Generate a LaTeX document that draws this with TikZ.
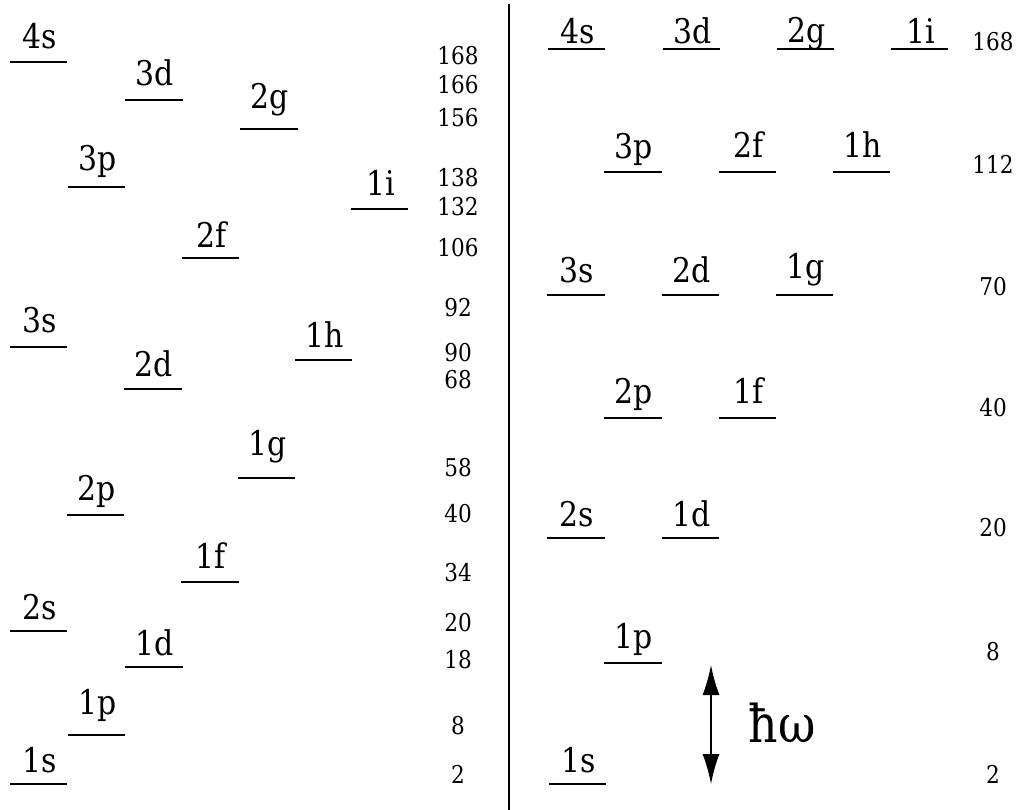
\documentclass[tikz,border=0pt]{standalone}
\usepackage{fontspec}
\setmainfont{DejaVu Serif}[FakeStretch=0.88]
\usetikzlibrary{arrows.meta}

\tikzset{
  levelbar/.style={line width=2pt},
  orbital/.style={anchor=base, inner sep=0pt, font=\fontsize{34}{40}\selectfont},
  magic/.style={anchor=center, inner sep=0pt, font=\fontsize{24.5}{30}\selectfont},
  divider/.style={line width=2pt},
  gap/.style={line width=1.5pt, {Latex[length=30pt,width=17pt]}-{Latex[length=30pt,width=17pt]}},
  quantum/.style={anchor=base, inner sep=0pt, font=\fontsize{52}{60}\selectfont}
}

\begin{document}
\begin{tikzpicture}[x=1pt, y=-1pt]
\useasboundingbox (0,0) rectangle (1027,809);

% left panel: realistic shell ordering (name/label/centre x/bar y/text baseline)
\foreach \n/\t/\cx/\ly/\by in {
  L4s/4s/38.5/62/48, L3d/3d/154/100/85, L2g/2g/269/129/108,
  L3p/3p/96.5/187/170, L1i/1i/379.5/209/195, L2f/2f/210.5/258/247,
  L3s/3s/38.5/347/332, L1h/1h/323.5/360/347, L2d/2d/153/389/376,
  L1g/1g/266.5/478/455, L2p/2p/95.5/515/500, L1f/1f/210/582/568,
  L2s/2s/38.5/631/619, L1d/1d/154/667/655, L1p/1p/96.5/735/714,
  L1s/1s/38.5/784/772}
{
  \draw[levelbar] (\cx-28.6,\ly) -- (\cx+28.6,\ly);
  \node[orbital] (\n) at (\cx+1,\by) {\t};
}

% left panel: magic numbers
\foreach \n/\t/\cy in {
  mL168/168/56, mL166/166/84.5, mL156/156/118, mL138/138/178,
  mL132/132/207, mL106/106/247.5, mL92/92/307.5, mL90/90/352.5,
  mL68/68/380, mL58/58/468, mL40/40/514, mL34/34/572.5,
  mL20/20/622.5, mL18/18/660, mL8/8/726, mL2/2/774}
{
  \node[magic] (\n) at (458,\cy) {\t};
}

% separator
\draw[divider] (509,4) -- (509,810);

% right panel: harmonic oscillator shells
\foreach \n/\t/\cx/\ly/\by in {
  R4s/4s/576.5/49/43, R3d/3d/691.5/49/43, R2g/2g/805.3/49/42, R1i/1i/919.7/49/43,
  R3p/3p/633/172/158, R2f/2f/747.5/172/157, R1h/1h/861.7/172/157,
  R3s/3s/576/295/282, R2d/2d/690.3/295/282, R1g/1g/804.7/295/278,
  R2p/2p/633/418/403, R1f/1f/747.5/418/403,
  R2s/2s/576/538/526, R1d/1d/690.3/538/526,
  R1p/1p/633/663/648,
  R1s/1s/577.7/784/772}
{
  \draw[levelbar] (\cx-28.6,\ly) -- (\cx+28.6,\ly);
  \node[orbital] (\n) at (\cx+1,\by) {\t};
}

% right panel: magic numbers
\foreach \n/\t/\cy in {
  mR168/168/41.7, mR112/112/164, mR70/70/287, mR40/40/408,
  mR20/20/528, mR8/8/651.7, mR2/2/774}
{
  \node[magic] (\n) at (993,\cy) {\t};
}

% oscillator quantum
\coordinate (gapTop) at (711,665);
\coordinate (gapBot) at (711,784);
\draw[gap] (gapTop) -- (gapBot);
\node[quantum] (hw) at (782,742) {ħω};
\end{tikzpicture}
\end{document}
